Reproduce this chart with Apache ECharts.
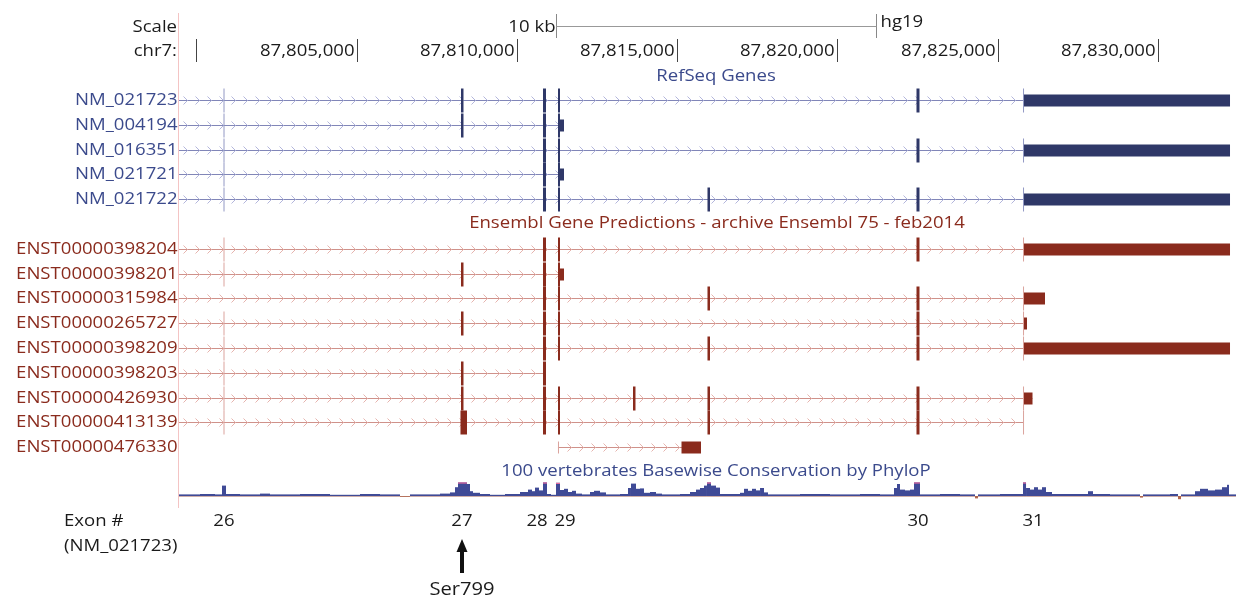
<!DOCTYPE html>
<html><head><meta charset="utf-8">
<script src="https://cdn.jsdelivr.net/npm/echarts@6/dist/echarts.min.js"></script>
<style>html,body{margin:0;padding:0;background:#fff}#c{width:1239px;height:601px}</style>
</head><body><div id="c"></div>
<script>
// ---------- data ----------
const viewStart = 87799454, viewEnd = 87832443;
const rulerTicks = [87800000, 87805000, 87810000, 87815000, 87820000, 87825000, 87830000];
const rulerLabels = ['', '87,805,000', '87,810,000', '87,815,000', '87,820,000', '87,825,000', '87,830,000'];
const scaleBar = [87811220, 87821220]; // 10 kb

// exons: [start, end, heightFraction]
const E26 = [87800843, 87800874, 1];
const E27 = [87808255, 87808333, 1];
const E27L = [87808239, 87808442, 1];
const E28 = [87810814, 87810908, 1];
const E29 = [87811282, 87811345, 1];
const U29 = [87811345, 87811470, 0.5];
const E29N = [87811282, 87811313, 0.5];
const E634 = [87813623, 87813701, 1];
const ENC = [87815137, 87815746, 0.5];
const E709 = [87815948, 87816026, 1];
const E30 = [87822471, 87822565, 1];
const E31 = [87825796, 87825826, 1];
const U31 = [87825826, 87832256, 0.5];
const U31a = [87825826, 87826482, 0.5];
const U31b = [87825826, 87825920, 0.5];
const U31c = [87825826, 87826092, 0.5];

const refseqNames = ['NM_021723', 'NM_004194', 'NM_016351', 'NM_021721', 'NM_021722'];
const refseqStarts = [87790000, 87790000, 87790000, 87790000, 87790000];
const refseqEnds = [87832256, 87811470, 87832256, 87811470, 87832256];
const refseqExons = [
  [E26, E27, E28, E29, E30, E31, U31],
  [E26, E27, E28, E29, U29],
  [E26, E28, E29, E30, E31, U31],
  [E26, E28, E29, U29],
  [E26, E28, E29, E709, E30, E31, U31]
];

const ensemblNames = ['ENST00000398204', 'ENST00000398201', 'ENST00000315984', 'ENST00000265727', 'ENST00000398209', 'ENST00000398203', 'ENST00000426930', 'ENST00000413139', 'ENST00000476330'];
const ensemblStarts = [87790000, 87790000, 87790000, 87790000, 87790000, 87790000, 87790000, 87790000, 87811282];
const ensemblEnds = [87832256, 87811470, 87826482, 87825920, 87832256, 87810908, 87826092, 87825826, 87815746];
const ensemblExons = [
  [E26, E28, E29, E30, E31, U31],
  [E26, E27, E28, E29, U29],
  [E28, E29, E709, E30, E31, U31a],
  [E26, E27, E28, E29, E30, E31, U31b],
  [E26, E28, E29, E709, E30, E31, U31],
  [E26, E27, E28],
  [E26, E27, E28, E29, E634, E709, E30, E31, U31c],
  [E26, E27L, E28, E29, E709, E30, E31],
  [E29N, ENC]
];

const exonNumbers = ['26', '27', '28', '29', '30', '31'];
const exonNumberPos = [87800858, 87808286, 87810627, 87811501, 87822518, 87826107];
const ser799Pos = [87808286];

const consPos = [87799454, 87800109, 87800577, 87800796, 87800921, 87801358, 87801982, 87802294, 87803230, 87804167, 87805103, 87805727, 87806351, 87806663, 87807600, 87807912, 87808068, 87808161, 87808442, 87808536, 87808630, 87808848, 87809160, 87809628, 87810096, 87810346, 87810471, 87810565, 87810690, 87810814, 87810939, 87811064, 87811220, 87811345, 87811470, 87811595, 87811719, 87811844, 87812032, 87812282, 87812406, 87812593, 87812780, 87813217, 87813467, 87813560, 87813717, 87813842, 87813966, 87814154, 87814341, 87814528, 87815090, 87815403, 87815589, 87815714, 87815839, 87815932, 87816057, 87816213, 87816338, 87816963, 87817087, 87817212, 87817337, 87817462, 87817588, 87817712, 87817837, 87818835, 87819772, 87820708, 87821332, 87821769, 87821862, 87821956, 87822112, 87822268, 87822393, 87822580, 87823205, 87823829, 87824297, 87824391, 87825078, 87825796, 87825890, 87826014, 87826139, 87826263, 87826388, 87826513, 87826700, 87827824, 87827980, 87828510, 87829447, 87829540, 87830383, 87830632, 87830726, 87831163, 87831319, 87831569, 87831787, 87832006, 87832162, 87832224, 87832443];
const consVal = [0.4, 0.5, 0.4, 2.6, 0.5, 0.4, 0.6, 0.4, 0.5, 0.3, 0.5, 0.4, -0.2, 0.4, 0.6, 0.9, 2.2, 3.4, 3.0, 1.2, 0.8, 0.5, 0.3, 0.5, 1.0, 1.6, 1.2, 2.1, 1.4, 3.4, 0.5, 0.3, 3.3, 1.5, 1.8, 1.0, 1.3, 0.6, 0.4, 1.0, 1.3, 0.9, 0.4, 0.5, 2.0, 3.1, 1.8, 1.9, 0.8, 1.0, 0.6, 0.4, 0.5, 1.0, 1.6, 2.0, 2.6, 3.4, 2.6, 2.1, 0.5, 0.8, 1.8, 1.3, 1.8, 1.4, 2.0, 0.9, 0.4, 0.5, 0.4, 0.5, 0.4, 2.0, 3.0, 1.6, 1.4, 1.6, 3.4, 0.4, 0.5, 0.4, -0.6, 0.4, 0.5, 3.4, 2.0, 1.6, 2.2, 1.6, 2.2, 1.0, 0.5, 1.2, 0.5, 0.4, -0.4, 0.4, 0.5, -0.8, 0.4, 1.2, 1.8, 1.4, 1.6, 2.2, 2.8, 0.4];

// ---------- layout / style ----------
const FONT = '16px "Open Sans", sans-serif';
const SX = 1.16;
const GL = 179, GW = 1057;
const ROW_MIN = -4.032, ROW_MAX = 20.202;
const COLORS = {
  refseq: { exon: '#2f3868', thin: '#9298c4', line: '#8186b8', chev: '#b3b6dc', label: '#3b4a8c' },
  ensembl: { exon: '#8a2b1d', thin: '#dba39d', line: '#cf918a', chev: '#e6b4ae', label: '#8a2b1d' }
};

const txList = [];
refseqNames.forEach((n, i) => txList.push({ name: n, track: 'refseq', row: i, start: refseqStarts[i], end: refseqEnds[i], exons: refseqExons[i] }));
ensemblNames.forEach((n, i) => txList.push({ name: n, track: 'ensembl', row: 6 + i, start: ensemblStarts[i], end: ensemblEnds[i], exons: ensemblExons[i] }));

function txt(text, x, y, align, vAlign, fill, font, extra) {
  return Object.assign({
    type: 'text', x: x, y: y, scaleX: SX, silent: true,
    style: { text: text, fill: fill, font: font || FONT, align: align, textAlign: align, verticalAlign: vAlign, textVerticalAlign: vAlign }
  }, extra || {});
}

function renderTx(params, api) {
  const tx = txList[params.dataIndex];
  const c = COLORS[tx.track];
  const p0 = api.coord([tx.start, tx.row]);
  const yc = Math.round(p0[1]);
  const xs = p0[0];
  const xe = api.coord([tx.end, tx.row])[0];
  const children = [];
  children.push({ type: 'line', shape: { x1: xs, y1: yc + 0.5, x2: xe, y2: yc + 0.5 }, style: { stroke: c.line, lineWidth: 1 } });
  for (let x = GL + 7; x < xe - 4; x += 12) {
    if (x < xs + 4) continue;
    children.push({ type: 'polyline', shape: { points: [[x - 2.5, yc - 3.5], [x + 1.5, yc + 0.5], [x - 2.5, yc + 4.5]] }, style: { stroke: c.chev, lineWidth: 1, fill: null } });
  }
  tx.exons.forEach(e => {
    const x0 = api.coord([e[0], tx.row])[0];
    const x1 = api.coord([e[1], tx.row])[0];
    const w = Math.max(x1 - x0, 1);
    const h = 24 * e[2];
    children.push({ type: 'rect', shape: { x: x0, y: yc + 0.5 - h / 2, width: w, height: h }, style: { fill: w < 1.3 ? c.thin : c.exon } });
  });
  return { type: 'group', children: children, silent: true };
}

function renderLabel(params, api) {
  const tx = txList[params.dataIndex];
  const p = api.coord([viewStart, tx.row]);
  return txt(tx.name, p[0] - 1.5, Math.round(p[1]) + 0.5, 'right', 'middle', COLORS[tx.track].label);
}

function renderRuler(params, api) {
  const v = rulerTicks[params.dataIndex];
  const x = Math.round(api.coord([v, 0])[0]) + 0.5;
  const ch = [{ type: 'line', shape: { x1: x, y1: 39, x2: x, y2: 62 }, style: { stroke: '#444', lineWidth: 1 } }];
  if (rulerLabels[params.dataIndex]) ch.push(txt(rulerLabels[params.dataIndex], x - 3, 51, 'right', 'middle', '#1a1a1a'));
  return { type: 'group', children: ch, silent: true };
}

function renderScaleBar(params, api) {
  const x0 = Math.round(api.coord([scaleBar[0], 0])[0]) + 0.5;
  const x1 = Math.round(api.coord([scaleBar[1], 0])[0]) + 0.5;
  return { type: 'group', silent: true, children: [
    { type: 'line', shape: { x1: x0, y1: 14, x2: x0, y2: 38 }, style: { stroke: '#888', lineWidth: 1 } },
    { type: 'line', shape: { x1: x1, y1: 14, x2: x1, y2: 38 }, style: { stroke: '#888', lineWidth: 1 } },
    { type: 'line', shape: { x1: x0, y1: 26.5, x2: x1, y2: 26.5 }, style: { stroke: '#999', lineWidth: 1 } },
    txt('10 kb', x0 - 1, 27, 'right', 'middle', '#1a1a1a'),
    txt('hg19', x1 + 4, 22, 'left', 'middle', '#1a1a1a')
  ] };
}

function renderExonNum(params, api) {
  const x = api.coord([exonNumberPos[params.dataIndex], 0])[0];
  return txt(exonNumbers[params.dataIndex], x, 521, 'center', 'middle', '#1a1a1a');
}

function renderArrow(params, api) {
  const x = Math.round(api.coord([ser799Pos[params.dataIndex], 0])[0]);
  return { type: 'group', silent: true, children: [
    { type: 'polygon', shape: { points: [[x, 539], [x + 5.5, 552], [x - 5.5, 552]] }, style: { fill: '#111' } },
    { type: 'rect', shape: { x: x - 2, y: 550, width: 4, height: 23 }, style: { fill: '#111' } },
    txt('Ser799', x, 590, 'center', 'middle', '#1a1a1a', '18px "Open Sans", sans-serif', { scaleX: 1.12 })
  ] };
}

function renderCons(params, api) {
  const i = params.dataIndex;
  const v = consVal[i];
  const pa = api.coord([consPos[i], 0]);
  const pb = api.coord([consPos[i + 1], v]);
  const x0 = pa[0], x1 = pb[0];
  const y0 = pa[1], y1 = pb[1];
  const w = Math.max(x1 - x0, 0.8);
  const ch = [
    { type: 'rect', shape: { x: x0, y: y0, width: w, height: 0.8 }, style: { fill: '#c39b93' } },
    { type: 'rect', shape: { x: x0, y: Math.min(y0, y1), width: w, height: Math.max(Math.abs(y1 - y0), 0.8) }, style: { fill: v >= 0 ? '#3f4a96' : '#b0654c' } }
  ];
  if (v >= 3.3) ch.push({ type: 'rect', shape: { x: x0, y: y1, width: w, height: 1.2 }, style: { fill: '#e36a9e' } });
  return { type: 'group', children: ch, silent: true };
}

const chart = echarts.init(document.getElementById('c'));
chart.setOption({
  animation: false,
  backgroundColor: '#ffffff',
  grid: [
    { left: GL, width: GW, top: 0, height: 601 },
    { left: GL, width: GW, top: 480, height: 22 }
  ],
  xAxis: [
    { type: 'value', gridIndex: 0, min: viewStart, max: viewEnd, show: false },
    { type: 'value', gridIndex: 1, min: viewStart, max: viewEnd, show: false }
  ],
  yAxis: [
    { type: 'value', gridIndex: 0, min: ROW_MIN, max: ROW_MAX, inverse: true, show: false },
    { type: 'value', gridIndex: 1, min: -1.5, max: 4, show: false }
  ],
  graphic: [
    { type: 'line', shape: { x1: 178.5, y1: 13, x2: 178.5, y2: 508 }, style: { stroke: '#f4c4c4', lineWidth: 1 }, silent: true },
    txt('Scale', 177, 27, 'right', 'middle', '#1a1a1a'),
    txt('chr7:', 177, 51, 'right', 'middle', '#1a1a1a'),
    txt('RefSeq Genes', 716, 76, 'center', 'middle', '#3b4a8c'),
    txt('Ensembl Gene Predictions - archive Ensembl 75 - feb2014', 717, 223, 'center', 'middle', '#8a2b1d'),
    txt('100 vertebrates Basewise Conservation by PhyloP', 716, 471, 'center', 'middle', '#3b4a8c'),
    txt('Exon #', 64, 521, 'left', 'middle', '#1a1a1a'),
    txt('(NM_021723)', 64, 546, 'left', 'middle', '#1a1a1a')
  ],
  series: [
    { type: 'custom', xAxisIndex: 0, yAxisIndex: 0, clip: true, renderItem: renderTx, data: txList.map(t => [t.start, t.row, t.end]) },
    { type: 'custom', xAxisIndex: 0, yAxisIndex: 0, clip: false, renderItem: renderLabel, data: txList.map(t => [viewStart, t.row]) },
    { type: 'custom', xAxisIndex: 0, yAxisIndex: 0, clip: false, renderItem: renderRuler, data: rulerTicks.map(v => [v, 0]) },
    { type: 'custom', xAxisIndex: 0, yAxisIndex: 0, clip: false, renderItem: renderScaleBar, data: [[scaleBar[0], 0, scaleBar[1]]] },
    { type: 'custom', xAxisIndex: 0, yAxisIndex: 0, clip: false, renderItem: renderExonNum, data: exonNumberPos.map(v => [v, 0]) },
    { type: 'custom', xAxisIndex: 0, yAxisIndex: 0, clip: false, renderItem: renderArrow, data: ser799Pos.map(v => [v, 0]) },
    { type: 'custom', xAxisIndex: 1, yAxisIndex: 1, clip: true, renderItem: renderCons, data: consVal.map((v, i) => [consPos[i], v, consPos[i + 1]]) }
  ]
});
</script></body></html>
